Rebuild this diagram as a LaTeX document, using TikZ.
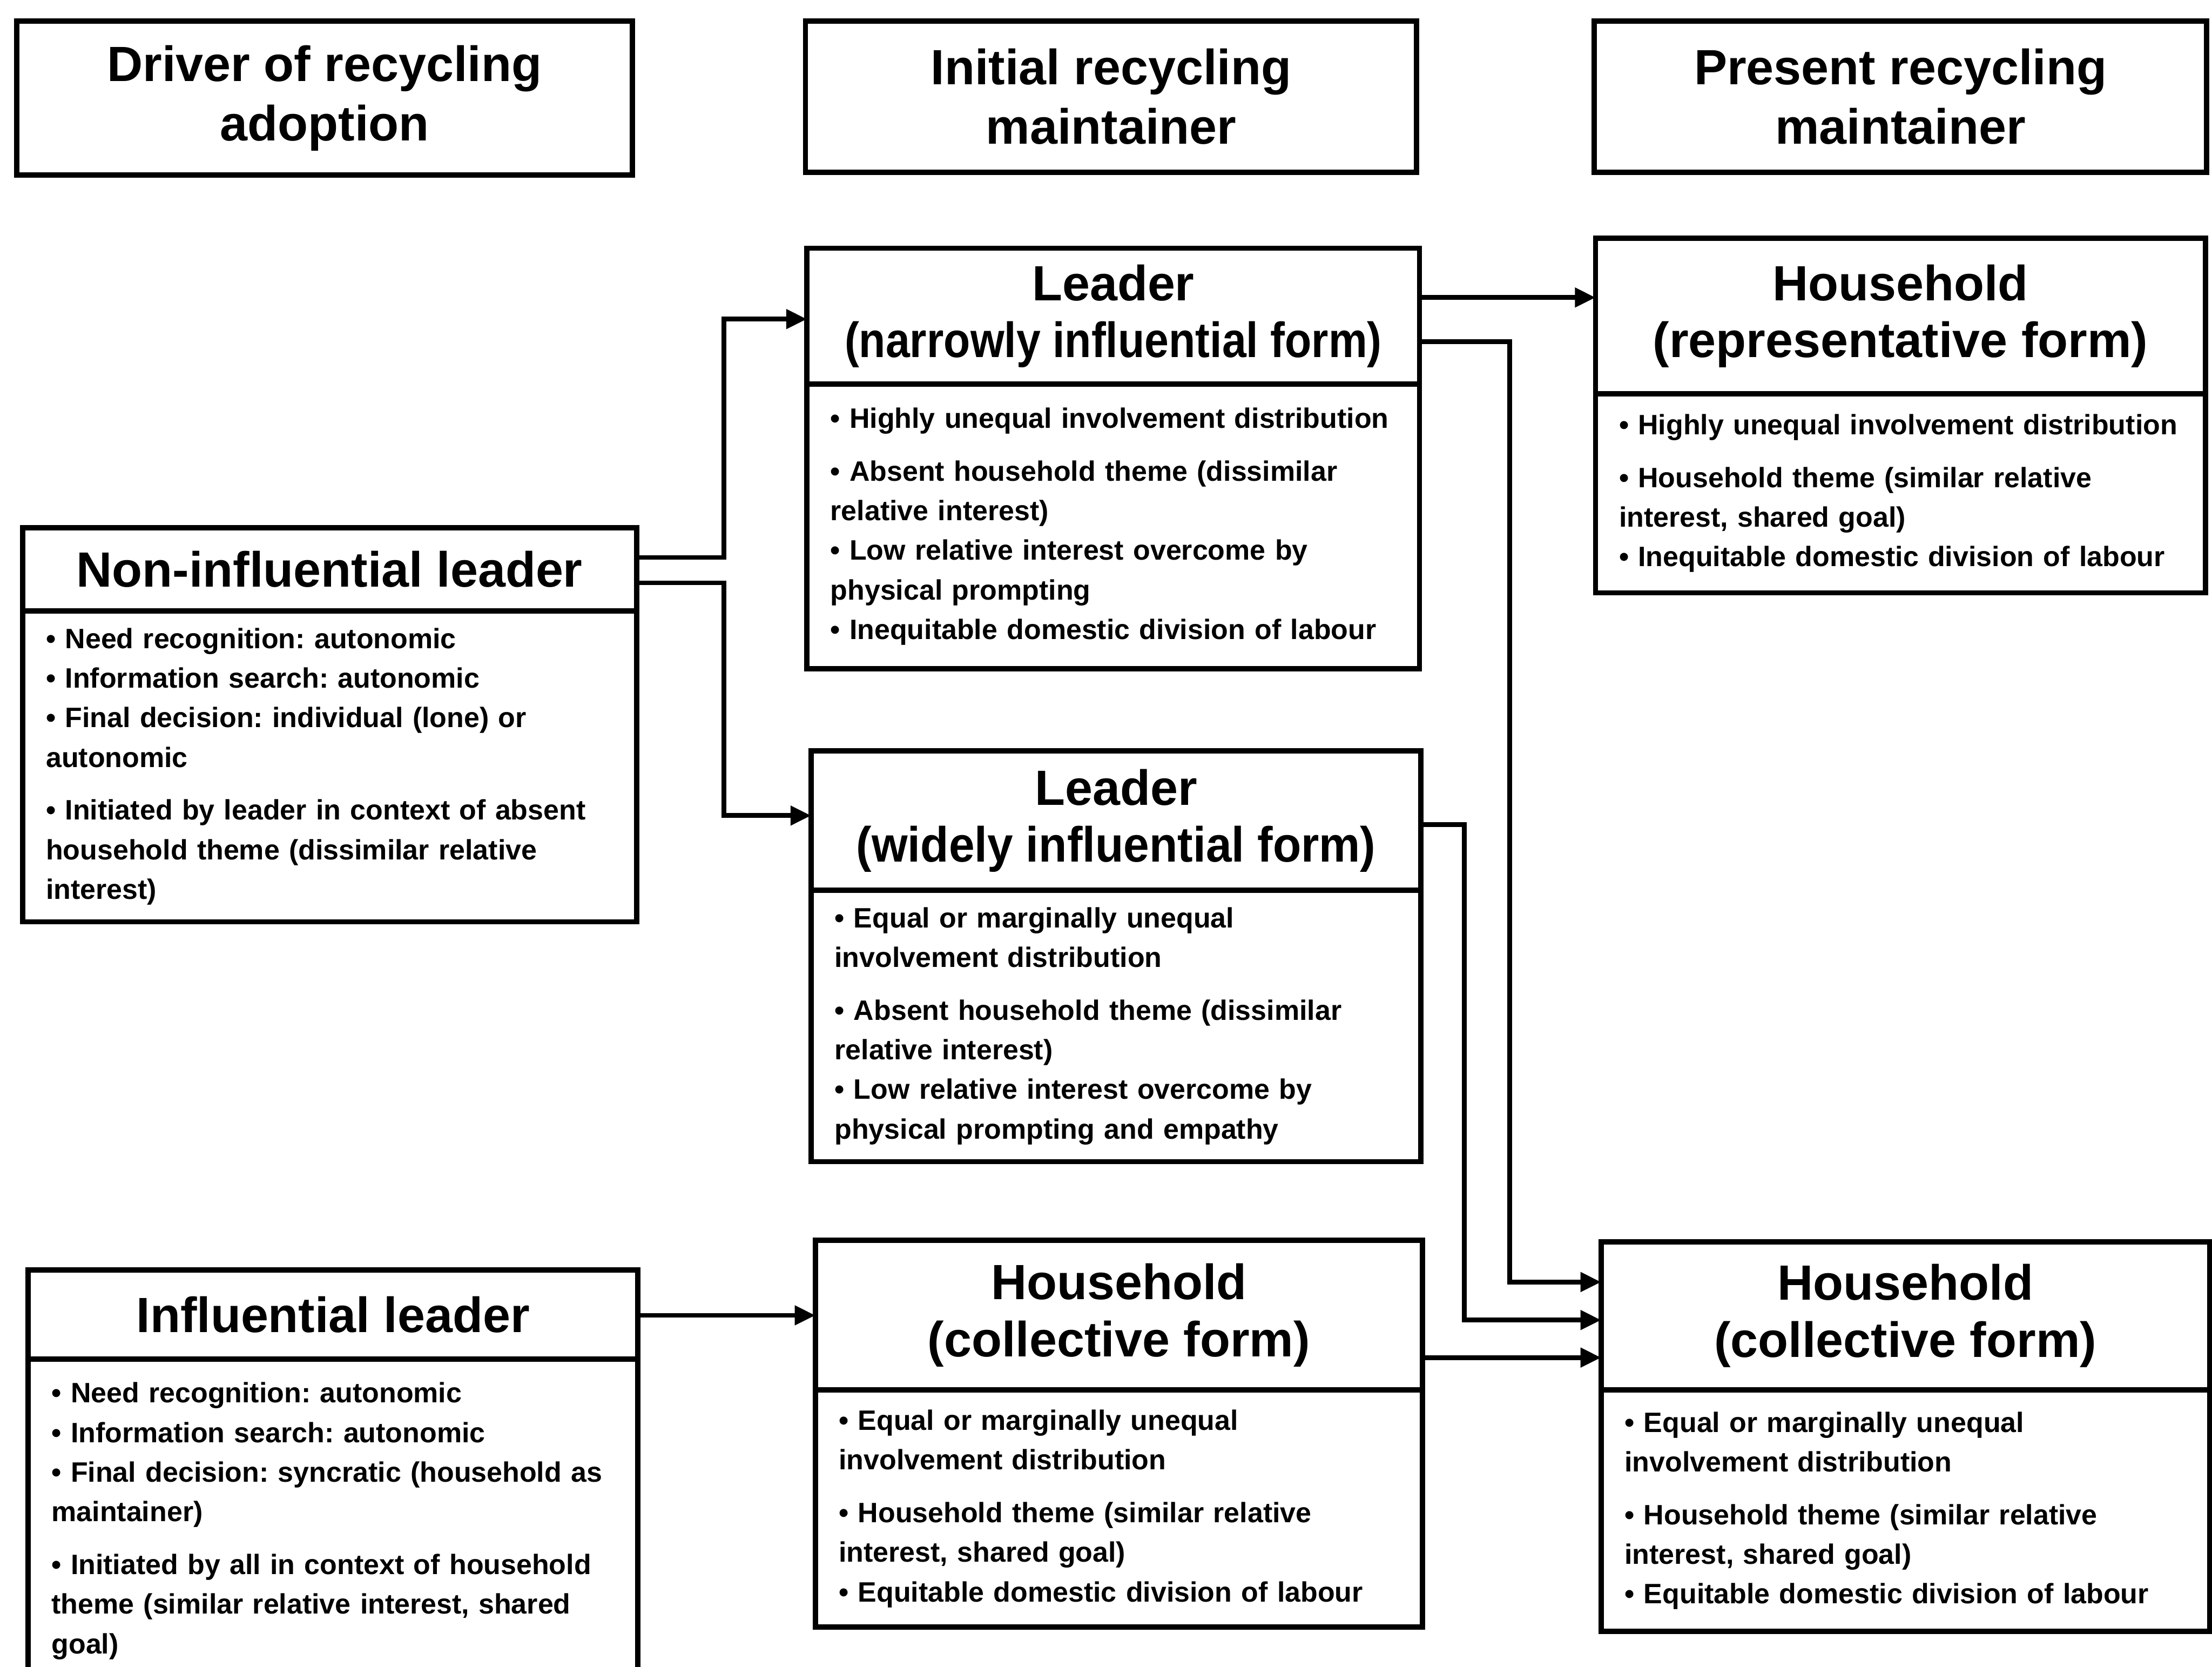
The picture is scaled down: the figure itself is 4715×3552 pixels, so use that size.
\documentclass[tikz,border=0pt]{standalone}
\usepackage{fontspec}
\usepackage{graphicx}
\setmainfont{Liberation Sans}
\usetikzlibrary{arrows.meta}
\frenchspacing

% Coordinates are given in units of 0.01cm, with y growing downwards.
\tikzset{
  box/.style={draw, rectangle, line width=3.2pt, outer sep=0pt, inner sep=0pt},
  headbox/.style={box, align=center, font=\bfseries\fontsize{30}{36}\selectfont},
  titlebox/.style={box, align=center, font=\bfseries\fontsize{30}{34.5}\selectfont},
  bodybox/.style={box, align=left, inner xsep=0.5cm, text width=#1,
    font=\bfseries\fontsize{17}{24}\selectfont},
  conn/.style={line width=2.9pt, -{Triangle[length=0.44cm,width=0.40cm]}},
}
\newcommand{\gap}{\\[8pt]}
\newcommand{\narrowline}[2]{\scalebox{#1}[1]{#2}}

\begin{document}
\begin{tikzpicture}[x=0.01cm, y=-0.01cm]
\useasboundingbox (0,0) rectangle (4715,3552);

% column headings
\node[headbox, anchor=north west, minimum width=13.11cm, minimum height=3.28cm]
  (h1) at (36,45) {Driver of recycling\\adoption};
\node[headbox, anchor=north west, minimum width=13.02cm, minimum height=3.22cm]
  (h2) at (1717,45) {Initial recycling\\maintainer};
\node[headbox, anchor=north west, minimum width=13.05cm, minimum height=3.22cm]
  (h3) at (3398,45) {Present recycling\\maintainer};

% Leader (narrowly influential form)
\node[titlebox, anchor=north west, minimum width=13.05cm, minimum height=2.89cm]
  (lnT) at (1720,529) {Leader\\\narrowline{0.88}{(narrowly influential form)}};
\node[bodybox=12.05cm, anchor=north west, minimum height=6.07cm]
  (lnB) at (lnT.south west) {%
  • Highly unequal involvement distribution\gap
  • Absent household theme (dissimilar\\relative interest)\\
  • Low relative interest overcome by\\physical prompting\\
  • Inequitable domestic division of labour};

% Household (representative form)
\node[titlebox, anchor=north west, minimum width=12.99cm, minimum height=3.31cm]
  (hrT) at (3401,508) {Household\\(representative form)};
\node[bodybox=11.99cm, anchor=north west, minimum height=4.24cm]
  (hrB) at (hrT.south west) {%
  • Highly unequal involvement distribution\gap
  • Household theme (similar relative\\interest, shared goal)\\
  • Inequitable domestic division of labour};

% Non-influential leader
\node[titlebox, anchor=north west, minimum width=13.08cm, minimum height=1.77cm]
  (nlT) at (48,1125) {Non-influential leader};
\node[bodybox=12.08cm, anchor=north west, minimum height=6.62cm]
  (nlB) at (nlT.south west) {%
  • Need recognition: autonomic\\
  • Information search: autonomic\\
  • Final decision: individual (lone) or\\autonomic\gap
  • Initiated by leader in context of absent\\household theme (dissimilar relative\\interest)};

% Leader (widely influential form)
\node[titlebox, anchor=north west, minimum width=12.99cm, minimum height=2.97cm]
  (lwT) at (1729,1600) {Leader\\\narrowline{0.935}{(widely influential form)}};
\node[bodybox=11.99cm, anchor=north west, minimum height=5.78cm]
  (lwB) at (lwT.south west) {%
  • Equal or marginally unequal\\involvement distribution\gap
  • Absent household theme (dissimilar\\relative interest)\\
  • Low relative interest overcome by\\physical prompting and empathy};

% Influential leader
\node[titlebox, anchor=north west, minimum width=12.99cm, minimum height=1.90cm]
  (ilT) at (60,2706) {Influential leader};
\node[bodybox=11.99cm, anchor=north west, minimum height=6.9cm]
  (ilB) at (ilT.south west) {%
  • Need recognition: autonomic\\
  • Information search: autonomic\\
  • Final decision: syncratic (household as\\maintainer)\gap
  • Initiated by all in context of household\\theme (similar relative interest, shared\\goal)};

% Household (collective form), initial maintainer
\node[titlebox, anchor=north west, minimum width=12.93cm, minimum height=3.19cm]
  (hmT) at (1738,2643) {Household\\(collective form)};
\node[bodybox=11.93cm, anchor=north west, minimum height=5.05cm]
  (hmB) at (hmT.south west) {%
  • Equal or marginally unequal\\involvement distribution\gap
  • Household theme (similar relative\\interest, shared goal)\\
  • Equitable domestic division of labour};

% Household (collective form), present maintainer
\node[titlebox, anchor=north west, minimum width=12.96cm, minimum height=3.16cm]
  (hcT) at (3413,2646) {Household\\(collective form)};
\node[bodybox=11.96cm, anchor=north west, minimum height=5.14cm]
  (hcB) at (hcT.south west) {%
  • Equal or marginally unequal\\involvement distribution\gap
  • Household theme (similar relative\\interest, shared goal)\\
  • Equitable domestic division of labour};

% routing points of the connectors
\coordinate (a1) at (1543,1188); \coordinate (a2) at (1543,680);
\coordinate (b1) at (1543,1242); \coordinate (b2) at (1543,1738);
\coordinate (c1) at (0,634);
\coordinate (d1) at (3218,728);  \coordinate (d2) at (3218,2732);
\coordinate (e1) at (3121,1757); \coordinate (e2) at (3121,2813);
\coordinate (f1) at (0,2893);
\coordinate (g1) at (0,2803);

% connectors
\draw[conn] (nlT.east |- a1) -- (a1) -- (a2) -- (lnT.west |- a2);
\draw[conn] (nlT.east |- b1) -- (b1) -- (b2) -- (lwT.west |- b2);
\draw[conn] (lnT.east |- c1) -- (hrT.west |- c1);
\draw[conn] (lnT.east |- d1) -- (d1) -- (d2) -- (hcT.west |- d2);
\draw[conn] (lwT.east |- e1) -- (e1) -- (e2) -- (hcT.west |- e2);
\draw[conn] (hmT.east |- f1) -- (hcT.west |- f1);
\draw[conn] (ilT.east |- g1) -- (hmT.west |- g1);
\end{tikzpicture}
\end{document}
